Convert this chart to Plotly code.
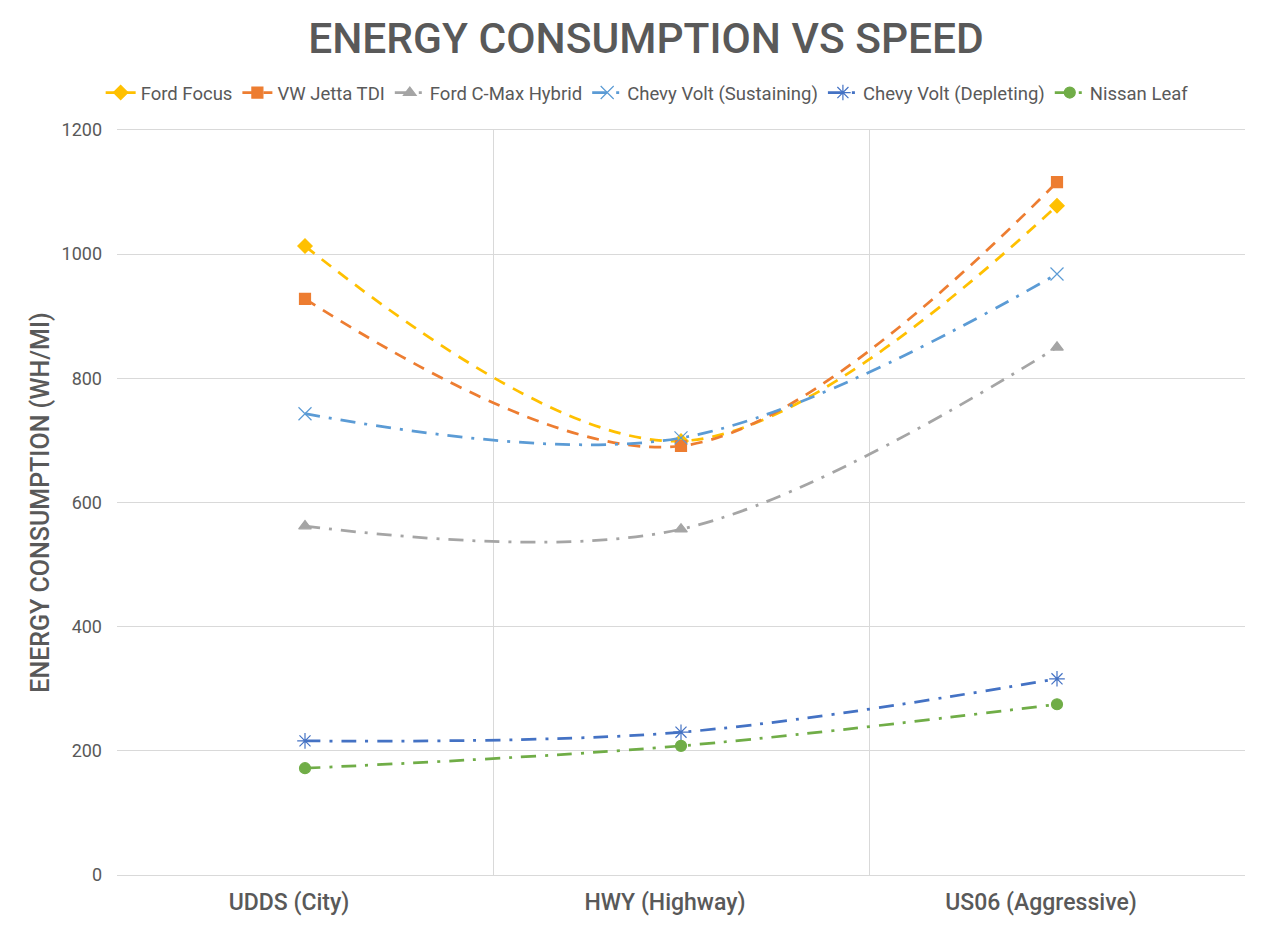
import plotly.graph_objects as go

categories = ["UDDS (City)", "HWY (Highway)", "US06 (Aggressive)"]
series_names = ["Ford Focus", "VW Jetta TDI", "Ford C-Max Hybrid",
                "Chevy Volt (Sustaining)", "Chevy Volt (Depleting)", "Nissan Leaf"]
ford_focus = [1013, 699, 1078]
vw_jetta = [928, 691, 1116]
cmax = [562, 557, 850]
volt_sust = [743, 704, 968]
volt_dep = [216, 230, 316]
leaf = [172, 208, 275]
y_ticks = [0, 200, 400, 600, 800, 1000, 1200]

values = [ford_focus, vw_jetta, cmax, volt_sust, volt_dep, leaf]
colors = ["#FFC000", "#ED7D31", "#A5A5A5", "#5B9BD5", "#4472C4", "#70AD47"]
DASH = "12px,9px"
DASHDOT = "15px,9px,3px,9px"
dashes = [DASH, DASH, DASHDOT, DASHDOT, DASHDOT, DASHDOT]
symbols = ["diamond", "square", "triangle-up", "x-thin-open", "asterisk-open", "circle"]
sizes = [11, 11, 11, 13, 13, 11]

FONT = "Roboto"
GRAY = "#595959"

fig = go.Figure()
for name, vals, c, d, s, sz in zip(series_names, values, colors, dashes, symbols, sizes):
    fig.add_trace(go.Scatter(
        x=categories, y=vals, name=name, mode="lines+markers",
        line=dict(color=c, width=2.75, dash=d, shape="spline", smoothing=1.0),
        marker=dict(symbol=s, size=sz, color=c, line=dict(color=c, width=1.2)),
    ))

# page is offset by the browser's 8px body margin
W, H = 1276, 924
T, B, L, R = 122, 57, 109, 39
PH = H - T - B
fig.update_layout(
    width=W, height=H,
    paper_bgcolor="white", plot_bgcolor="white",
    margin=dict(l=L, r=R, t=T, b=B),
    title=dict(text="ENERGY CONSUMPTION VS SPEED", x=0.5, xanchor="center",
               y=1 - 30 / H, yanchor="middle",
               font=dict(family=FONT, size=42.5, weight=500, color=GRAY)),
    legend=dict(orientation="h", x=0.47, xanchor="center", y=1 + 37 / PH, yanchor="middle",
                font=dict(family=FONT, size=18.5, color=GRAY),
                itemwidth=30, tracegroupgap=0),
    font=dict(family=FONT, color=GRAY),
)
fig.update_xaxes(type="category", tickson="boundaries", showgrid=True, gridcolor="#D9D9D9",
                 gridwidth=1, ticks="", showline=True, linecolor="#D9D9D9",
                 mirror=True, range=[-0.5, 2.5], ticklabelshift=-16, ticklabelstandoff=6,
                 tickfont=dict(family=FONT, size=23, weight=500, color=GRAY))
fig.update_yaxes(range=[0, 1200], tickvals=y_ticks, showgrid=True, gridcolor="#D9D9D9",
                 gridwidth=1, zeroline=False, ticks="", showline=False,
                 ticklabelstandoff=14,
                 tickfont=dict(family=FONT, size=18, color=GRAY),
                 title=dict(text="ENERGY CONSUMPTION (WH/MI)", standoff=4,
                            font=dict(family=FONT, size=25, weight=500, color=GRAY)))

fig.write_html("out.html")
